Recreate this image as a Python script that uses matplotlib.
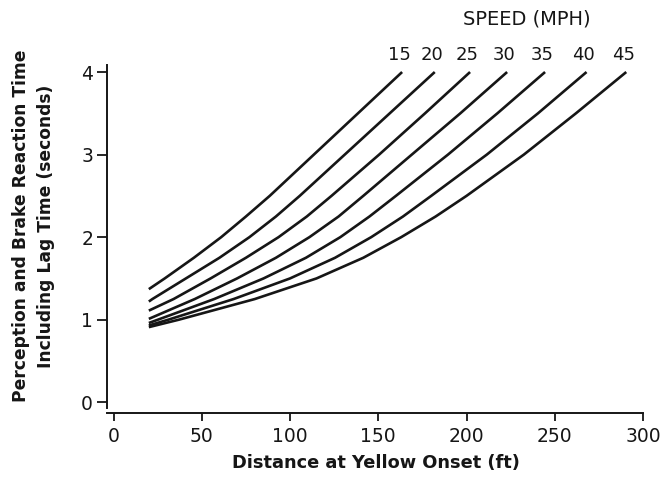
import numpy as np
import matplotlib
matplotlib.use("Agg")
import matplotlib.pyplot as plt

# speeds (mph) and values
speeds = [15, 20, 25, 30, 35, 40, 45]
start_dist = 20
start_time = [1.37, 1.22, 1.11, 1.01, 0.96, 0.93, 0.91]

# reaction time levels (s) and the distance (ft) where each curve crosses them
time_levels = [1.0, 1.25, 1.5, 1.75, 2.0, 2.25, 2.5, 3.0, 3.5, 4.0]
dist_15 = [np.nan, np.nan, 29, 45.5, 61, 75, 88.5, 113.5, 138.5, 163.5]
dist_20 = [np.nan, 22, 41, 60, 77, 92, 105.5, 131, 156.5, 182]
dist_25 = [np.nan, 34, 55, 75, 93.5, 109.5, 123.5, 150.5, 176.5, 202]
dist_30 = [np.nan, 46, 70, 92, 111, 127.5, 141.5, 169, 196.5, 223]
dist_35 = [np.nan, 57, 85, 109, 128.5, 145, 160, 189.5, 217.5, 244.5]
dist_40 = [31, 68, 100, 125.5, 146, 164, 180, 211.5, 240.5, 268]
dist_45 = [37, 80, 115, 141.5, 163, 182.5, 200, 232.5, 262, 290.5]
curve_dists = [dist_15, dist_20, dist_25, dist_30, dist_35, dist_40, dist_45]

x_ticks = [0, 50, 100, 150, 200, 250, 300]
y_ticks = [0, 1, 2, 3, 4]

INK = "#161616"

fig = plt.figure(figsize=(6.63, 4.8), dpi=100)
ax = fig.add_axes([0.1614, 0.1396, 0.8098, 0.7241])

for spd, t0, dists in zip(speeds, start_time, curve_dists):
    d = np.array([start_dist] + list(dists), dtype=float)
    t = np.array([t0] + time_levels, dtype=float)
    keep = ~np.isnan(d)
    ax.plot(d[keep], t[keep], color=INK, lw=1.9, solid_joinstyle="round",
            solid_capstyle="butt")
    ax.annotate(str(spd), xy=(d[keep][-1], t[keep][-1]), xytext=(-2, 12),
                textcoords="offset points", ha="center", va="center",
                fontsize=13, color=INK)

ax.text(0.782, 1.135, "SPEED (MPH)", transform=ax.transAxes, ha="center",
        va="center", fontsize=14, color=INK)

ax.set_xlim(-3.7, 300.5)
ax.set_ylim(-0.13, 4.08)
ax.set_xticks(x_ticks)
ax.set_yticks(y_ticks)
ax.tick_params(axis="both", direction="out", width=1.3, color=INK,
               labelsize=13.5, labelcolor=INK)
ax.tick_params(axis="x", length=6, pad=4)
ax.tick_params(axis="y", length=7, pad=3)

for side in ["top", "right"]:
    ax.spines[side].set_visible(False)
for side in ["left", "bottom"]:
    ax.spines[side].set_linewidth(1.4)
    ax.spines[side].set_color(INK)
ax.spines["left"].set_bounds(-0.07, 4.08)
ax.spines["bottom"].set_bounds(-3.7, 300)

ax.set_xlabel("Distance at Yellow Onset (ft)", fontsize=12.8,
              fontweight="bold", color=INK, labelpad=6)
fig.text(0.0505, 0.529,
         "Perception and Brake Reaction Time\nIncluding Lag Time (seconds)",
         rotation=90, ha="center", va="center", multialignment="center",
         fontsize=12.3, fontweight="bold", color=INK, linespacing=1.5)

fig.savefig("out.png", dpi=100)
